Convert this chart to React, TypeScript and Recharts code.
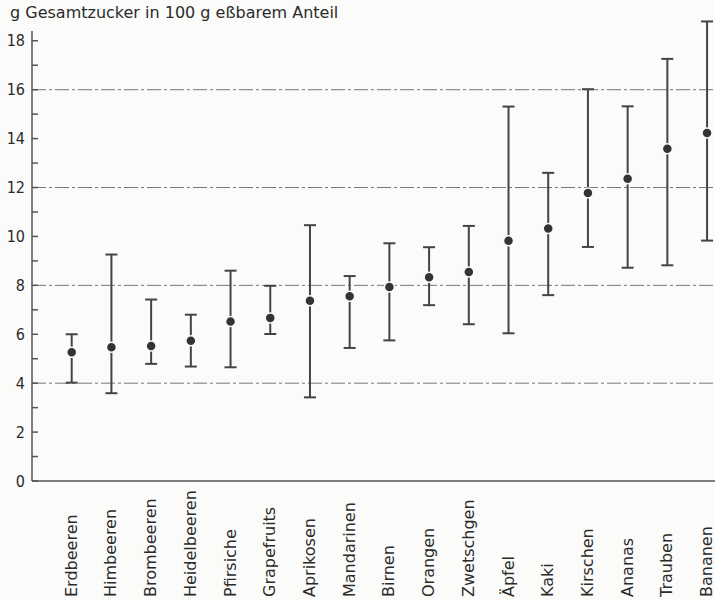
import React from 'react';
import { ScatterChart, Scatter, XAxis, YAxis, ErrorBar, ReferenceLine } from 'recharts';

const categories = ['Erdbeeren', 'Himbeeren', 'Brombeeren', 'Heidelbeeren', 'Pfirsiche', 'Grapefruits', 'Aprikosen', 'Mandarinen', 'Birnen', 'Orangen', 'Zwetschgen', 'Äpfel', 'Kaki', 'Kirschen', 'Ananas', 'Trauben', 'Bananen'];
const means = [5.26, 5.47, 5.52, 5.73, 6.52, 6.67, 7.37, 7.55, 7.93, 8.33, 8.55, 9.82, 10.32, 11.78, 12.36, 13.59, 14.23];
const lows = [4.02, 3.59, 4.79, 4.68, 4.65, 6.01, 3.42, 5.44, 5.75, 7.19, 6.41, 6.04, 7.6, 9.57, 8.72, 8.82, 9.83];
const highs = [6.0, 9.26, 7.42, 6.8, 8.6, 7.98, 10.46, 8.38, 9.72, 9.56, 10.43, 15.31, 12.6, 16.02, 15.32, 17.26, 18.79];
const yTicks = [0, 1, 2, 3, 4, 5, 6, 7, 8, 9, 10, 11, 12, 13, 14, 15, 16, 17, 18];
const gridValues = [4, 8, 12, 16];
const xTicks = categories.map((_, i) => i + 1);
const title = 'g Gesamtzucker in 100 g eßbarem Anteil';

const data = categories.map((name, i) => ({
  x: i + 1,
  name,
  y: means[i],
  err: [means[i] - lows[i], highs[i] - means[i]],
}));

const INK = '#2b2b2b';
const LINE = '#555';
const BG = '#fbfbfa';

const YTick = (props: any) => {
  const { x, y, payload } = props;
  const v = payload.value;
  const axisX = x + 7;
  const major = v % 2 === 0;
  return (
    <g>
      <line x1={axisX} x2={axisX + 6} y1={y} y2={y} stroke={LINE} strokeWidth={1.5} />
      {major && (
        <text x={axisX - 7} y={y + 5.5} textAnchor="end" fill={INK} fontSize={16} fontFamily="Liberation Sans Narrow, DejaVu Sans Condensed, sans-serif">
          {v}
        </text>
      )}
    </g>
  );
};

const XTick = (props: any) => {
  const { x, payload } = props;
  const name = categories[payload.value - 1] ?? '';
  const bx = x + 5;
  const by = 597;
  return (
    <text x={bx} y={by} transform={`rotate(-90, ${bx}, ${by})`} textAnchor="start" fill={INK} fontSize={16} fontFamily="DejaVu Sans, sans-serif">
      {name}
    </text>
  );
};

const Dot = (props: any) => {
  const { cx, cy } = props;
  return <circle cx={cx} cy={cy} r={5} fill="#333" stroke={BG} strokeWidth={1.5} />;
};

export default function App() {
  return (
    <div style={{ position: 'absolute', left: 0, top: 0, width: 715, height: 600, background: BG }}>
      <div
        style={{
          position: 'absolute',
          left: 10,
          top: 3,
          fontFamily: 'DejaVu Sans, sans-serif',
          fontSize: 16,
          color: INK,
          whiteSpace: 'nowrap',
        }}
      >
        {title}
      </div>
      <ScatterChart width={715} height={600} margin={{ top: 31, right: 0, bottom: 0, left: 0 }}>
        <XAxis
          type="number"
          dataKey="x"
          domain={[0, 17.2]}
          ticks={xTicks}
          interval={0}
          tick={<XTick />}
          tickLine={false}
          axisLine={{ stroke: LINE, strokeWidth: 1.5 }}
          height={119}
          allowDataOverflow
        />
        <YAxis
          type="number"
          dataKey="y"
          domain={[0, 18.4]}
          ticks={yTicks}
          interval={0}
          tick={<YTick />}
          tickLine={false}
          tickSize={0}
          tickMargin={7}
          axisLine={{ stroke: LINE, strokeWidth: 1.5 }}
          width={32}
          allowDataOverflow
        />
        {gridValues.map((v) => (
          <ReferenceLine key={v} y={v} stroke="#777" strokeWidth={1} strokeDasharray="14 3 3 3" />
        ))}
        <Scatter data={data} shape={<Dot />} isAnimationActive={false}>
          <ErrorBar dataKey="err" width={6} stroke="#444" strokeWidth={2} direction="y" />
        </Scatter>
      </ScatterChart>
    </div>
  );
}
